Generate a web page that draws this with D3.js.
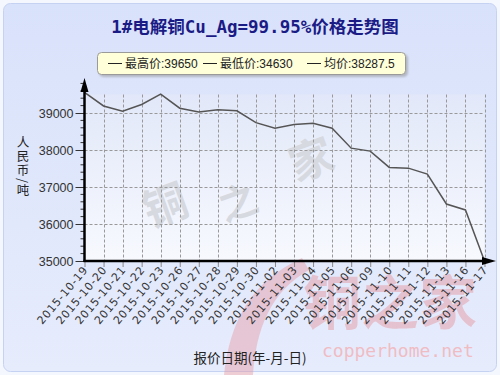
<!DOCTYPE html>
<html><head><meta charset="utf-8">
<script src="https://cdn.jsdelivr.net/npm/d3@7"></script>
<style>body{margin:0;padding:0;overflow:hidden;background:#fff}</style>
</head><body>
<script>
const dates = ["2015-10-19","2015-10-20","2015-10-21","2015-10-22","2015-10-23","2015-10-26","2015-10-27","2015-10-28","2015-10-29","2015-10-30","2015-11-02","2015-11-03","2015-11-04","2015-11-05","2015-11-06","2015-11-09","2015-11-10","2015-11-11","2015-11-12","2015-11-13","2015-11-16","2015-11-17"];
const prices = [39560,39190,39050,39230,39510,39130,39030,39090,39060,38740,38590,38690,38720,38590,38050,37970,37530,37510,37350,36540,36380,35000];
const yTicks = [35000,36000,37000,38000,39000];
const titleText = "1#电解铜Cu_Ag=99.95%价格走势图";
const legendItems = ["最高价:39650","最低价:34630","均价:38287.5"];
const yTitle = "人民币/吨";
const xTitle = "报价日期(年-月-日)";

const W = 500, H = 375;
const svg = d3.select("body").append("svg").attr("width", W).attr("height", H);
const defs = svg.append("defs");
const bg = defs.append("linearGradient").attr("id","bg").attr("x1",0).attr("y1",0).attr("x2",0).attr("y2",1);
bg.append("stop").attr("offset","0%").attr("stop-color","#d9e2fb");
bg.append("stop").attr("offset","100%").attr("stop-color","#e6ecfc");
const pg = defs.append("linearGradient").attr("id","pg").attr("x1",0).attr("y1",0).attr("x2",0).attr("y2",1);
pg.append("stop").attr("offset","0%").attr("stop-color","#e2e8f9");
pg.append("stop").attr("offset","100%").attr("stop-color","#f7f9fe");
const sh = defs.append("filter").attr("id","sh").attr("x","-10%").attr("y","-30%").attr("width","130%").attr("height","180%");
sh.append("feDropShadow").attr("dx",2).attr("dy",2).attr("stdDeviation",1).attr("flood-color","#888").attr("flood-opacity",0.5);

svg.append("rect").attr("x",0).attr("y",0).attr("width",W).attr("height",H).attr("fill","#f4f7fe");
svg.append("rect").attr("x",3.5).attr("y",3.5).attr("width",W-7).attr("height",H-7).attr("rx",7)
  .attr("fill","url(#bg)").attr("stroke","#c5d2f2").attr("stroke-width",1);

const x = d3.scalePoint().domain(dates).range([84.5, 484.5]);
const y = d3.scaleLinear().domain([35000, 40000]).range([261, 76]);
const left = 84.5, bottom = 261;

// plot background
svg.append("rect").attr("x",left).attr("y",y(39500)).attr("width",484.5-left).attr("height",bottom-y(39500)).attr("fill","url(#pg)");

// watermarks
svg.append("text").attr("x",303).attr("y",324).attr("font-family","Noto Sans CJK SC").attr("font-weight","bold")
  .attr("font-size",58).attr("fill","#e69aa4").attr("opacity",0.5).text("铜之家");
svg.append("path").attr("d","M224,375 C230,322 250,282 302,258 L309,270 C270,292 256,330 253,375 Z")
  .attr("fill","#e69aa4").attr("opacity",0.45);
svg.append("text").attr("x",322).attr("y",357).attr("font-family","DejaVu Sans Mono").attr("font-size",18)
  .attr("fill","#f0bcc4").text("copperhome.net");
const wm = svg.append("g").attr("fill","#d6d9e0").attr("font-family","Noto Sans CJK SC").attr("font-weight","bold").attr("font-size",44);
wm.append("text").attr("transform","translate(150,228) rotate(-20)").text("铜");
wm.append("text").attr("transform","translate(225,222) rotate(-20)").attr("font-size",38).text("之");
wm.append("text").attr("transform","translate(296,182) rotate(-20)").text("家");

// grid
const grid = svg.append("g").attr("stroke","#999").attr("stroke-width",1).attr("stroke-dasharray","3,2");
yTicks.filter(v => v > 35000).forEach(v => {
  grid.append("line").attr("x1",left).attr("x2",484.5).attr("y1",Math.round(y(v))+0.5).attr("y2",Math.round(y(v))+0.5);
});
dates.slice(1).forEach(d => {
  grid.append("line").attr("x1",Math.round(x(d))+0.5).attr("x2",Math.round(x(d))+0.5).attr("y1",y(39500)).attr("y2",bottom);
});

// line
const line = d3.line().x((d,i) => x(dates[i])).y(d => y(d));
svg.append("path").datum(prices).attr("d",line).attr("fill","none").attr("stroke","#555").attr("stroke-width",1.5);

// x axis ticks + labels
const xAxis = d3.axisBottom(x).tickSize(6).tickFormat("");
const gx = svg.append("g").attr("transform",`translate(0,${bottom})`).call(xAxis);
gx.select(".domain").remove();
gx.selectAll(".tick line").attr("stroke","#888");
svg.append("g").selectAll("text").data(dates).join("text")
  .attr("transform", d => `translate(${x(d)+4},${bottom+9}) rotate(-50)`)
  .attr("text-anchor","end").attr("font-family","DejaVu Sans").attr("font-size",11)
  .attr("letter-spacing",0.8).attr("fill","#333").text(d => d);

// y axis ticks
const yAxis = d3.axisLeft(y).tickValues(yTicks).tickSize(9).tickPadding(2).tickFormat(d3.format("d"));
const gy = svg.append("g").attr("transform",`translate(${left},0)`).call(yAxis);
gy.select(".domain").remove();
gy.selectAll(".tick line").attr("stroke","#333");
gy.selectAll(".tick text").attr("font-family","Liberation Sans, Arial").attr("font-size",12.5).attr("fill","#333");
const minor = d3.range(35000, 39801, 200).filter(v => v % 1000 !== 0);
svg.append("g").selectAll("line").data(minor).join("line")
  .attr("x1",left-4).attr("x2",left).attr("y1",d => y(d)).attr("y2",d => y(d)).attr("stroke","#333");

// axis lines with arrows
svg.append("line").attr("x1",left).attr("x2",left).attr("y1",bottom+1).attr("y2",86).attr("stroke","#000").attr("stroke-width",2.5);
svg.append("path").attr("d",`M${left},78 L${left-4},92 L${left+4},92 Z`).attr("fill","#000");
svg.append("line").attr("x1",left-1).attr("x2",486).attr("y1",bottom).attr("y2",bottom).attr("stroke","#000").attr("stroke-width",2.5);
svg.append("path").attr("d",`M496,${bottom} L482,${bottom-4} L482,${bottom+4} Z`).attr("fill","#000");

// title
svg.append("text").attr("x",255).attr("y",33).attr("text-anchor","middle")
  .attr("font-family","DejaVu Sans Mono, Noto Sans CJK SC").attr("font-weight","bold").attr("font-size",17.5)
  .attr("fill","#1b1b86").text(titleText);

// legend
svg.append("rect").attr("x",97.5).attr("y",52.5).attr("width",308).attr("height",22).attr("rx",4)
  .attr("fill","#ffffd9").attr("stroke","#9a9a9a").attr("filter","url(#sh)");
const lx = [108, 203, 307];
const lg = svg.append("g");
legendItems.forEach((t,i) => {
  lg.append("line").attr("x1",lx[i]).attr("x2",lx[i]+14).attr("y1",63.5).attr("y2",63.5).attr("stroke","#222").attr("stroke-width",1);
  lg.append("text").attr("x",lx[i]+17).attr("y",68).attr("font-family","Liberation Sans, Noto Sans CJK SC")
    .attr("font-size",12).attr("fill","#222").text(t);
});

// y title (vertical writing)
svg.append("text").attr("x",23).attr("y",136)
  .attr("writing-mode","vertical-rl").attr("style","writing-mode:vertical-rl")
  .attr("font-family","Noto Sans CJK SC").attr("font-size",12.5).attr("fill","#222")
  .attr("letter-spacing",1.5).text(yTitle);

// x title
svg.append("text").attr("x",250).attr("y",363).attr("text-anchor","middle").attr("font-family","Noto Sans CJK SC")
  .attr("font-size",13.5).attr("fill","#222").text(xTitle);
</script>
</body></html>
